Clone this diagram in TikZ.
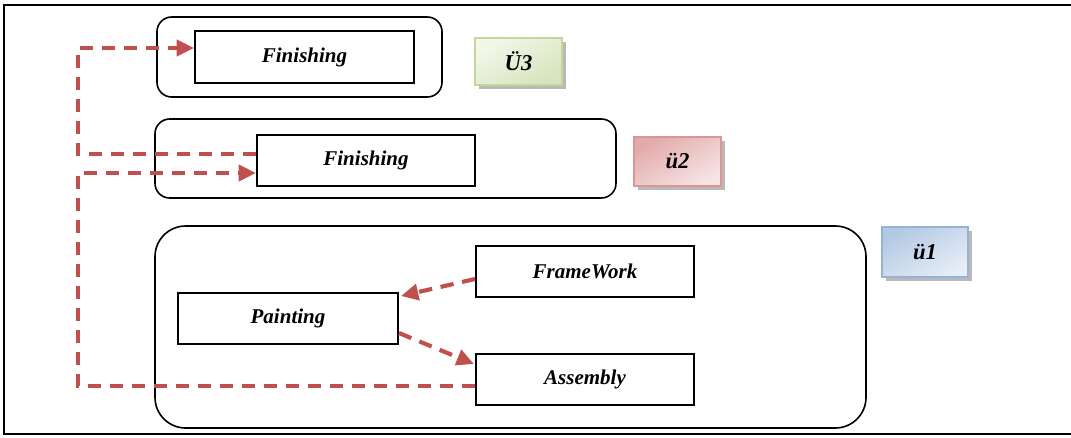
\documentclass[tikz,border=0pt]{standalone}
\usepackage{fontspec}
\setmainfont{Liberation Serif}
\usetikzlibrary{arrows.meta,calc}
\definecolor{flowred}{HTML}{C0504D}
\definecolor{gborder}{HTML}{C3D69B}
\definecolor{gdark}{HTML}{D7E4BD}
\definecolor{glight}{HTML}{F3F7EA}
\definecolor{rborder}{HTML}{D99694}
\definecolor{rdark}{HTML}{E2ABAA}
\definecolor{rlight}{HTML}{F6E4E4}
\definecolor{bborder}{HTML}{95B3D7}
\definecolor{bdark}{HTML}{B3C9E3}
\definecolor{blight}{HTML}{E6EDF6}
\tikzset{
  lbl/.style={font=\fontsize{15.75}{18}\selectfont\bfseries\itshape},
  taskbox/.style={draw=black, line width=1.5pt, fill=white, lbl, inner sep=0pt},
  groupbox/.style={draw=black, line width=1.2pt, rounded corners=#1, inner sep=0pt},
  badge/.style={draw=#1, line width=1.2pt, inner sep=0pt,
    font=\fontsize{17}{18}\selectfont\bfseries\itshape},
  shadowbox/.style={fill=gray!55, draw=none},
  flow/.style={draw=flowred, line width=3.1pt, dash pattern=on 10pt off 6.5pt},
  tip/.style={-{Triangle[length=13pt,width=12pt]}}
}
\begin{document}
\begin{tikzpicture}[x=0.75pt,y=-0.75pt]
\useasboundingbox (0,0) rectangle (1071,437);
% outer frame (open at the right)
\draw[line width=1.5pt] (1075,5) -- (4,5) -- (4,434) -- (1075,434);

% groups
\node[groupbox=11pt, minimum width=213.75pt, minimum height=60pt] (g3) at (299.5,57) {};
\node[groupbox=11pt, minimum width=345.75pt, minimum height=59.25pt] (g2) at (385.5,158.5) {};
\node[groupbox=23pt, minimum width=533.25pt, minimum height=151.5pt] (g1) at (510.5,327) {};

% task boxes
\node[taskbox, minimum width=164.25pt, minimum height=39pt] (f1) at (304.5,57) {Finishing};
\node[taskbox, minimum width=163.5pt, minimum height=38.25pt] (f2) at (366,160.5) {Finishing};
\node[taskbox, minimum width=163.5pt, minimum height=38.25pt] (fw) at (585,271.5) {FrameWork};
\node[taskbox, minimum width=165pt, minimum height=38.25pt] (pt) at (288,318.5) {Painting};
\node[taskbox, minimum width=163.5pt, minimum height=38.25pt] (as) at (585,379.5) {Assembly};

% badges with shadows
\fill[shadowbox] (479,42) rectangle (566,89);
\node[badge=gborder, shading=axis, left color=glight, right color=gdark, shading angle=30,
  minimum width=65.25pt, minimum height=35.25pt] (b3) at (518.5,61.5) {Ü3};
\fill[shadowbox] (638,141) rectangle (725,190);
\node[badge=rborder, shading=axis, left color=rlight, right color=rdark, shading angle=210,
  minimum width=65.25pt, minimum height=36.75pt] (b2) at (677.5,161.5) {ü2};
\fill[shadowbox] (886,231) rectangle (972,281);
\node[badge=bborder, shading=axis, left color=blight, right color=bdark, shading angle=210,
  minimum width=64.5pt, minimum height=37.5pt] (b1) at (925,252) {ü1};

% connectors
\coordinate (spine) at (78,0);
\coordinate (a0) at ($(as.west)+(0,6.5)$);
\coordinate (a1) at ($(f2.west)+(0,12.5)$);
\coordinate (c0) at ($(f2.west)+(0,-6.5)$);
\coordinate (c1) at ($(f1.west)+(0,-9)$);
\draw[flow, tip] (a0) -- (a0 -| spine) -- (a1 -| spine) -- (a1);
\draw[flow, tip] (c0) -- (c0 -| spine) -- (c1 -| spine) -- (c1);
\coordinate (fwout) at ($(fw.west)+(0,7.5)$);
\coordinate (ptin) at ($(pt.north east)+(2,4)$);
\draw[flow, tip] (fwout) -- (ptin);
\coordinate (ptout) at ($(pt.east)+(0,14.5)$);
\coordinate (asin) at ($(as.north west)+(-1,11)$);
\draw[flow, tip] (ptout) -- (asin);
\end{tikzpicture}
\end{document}
